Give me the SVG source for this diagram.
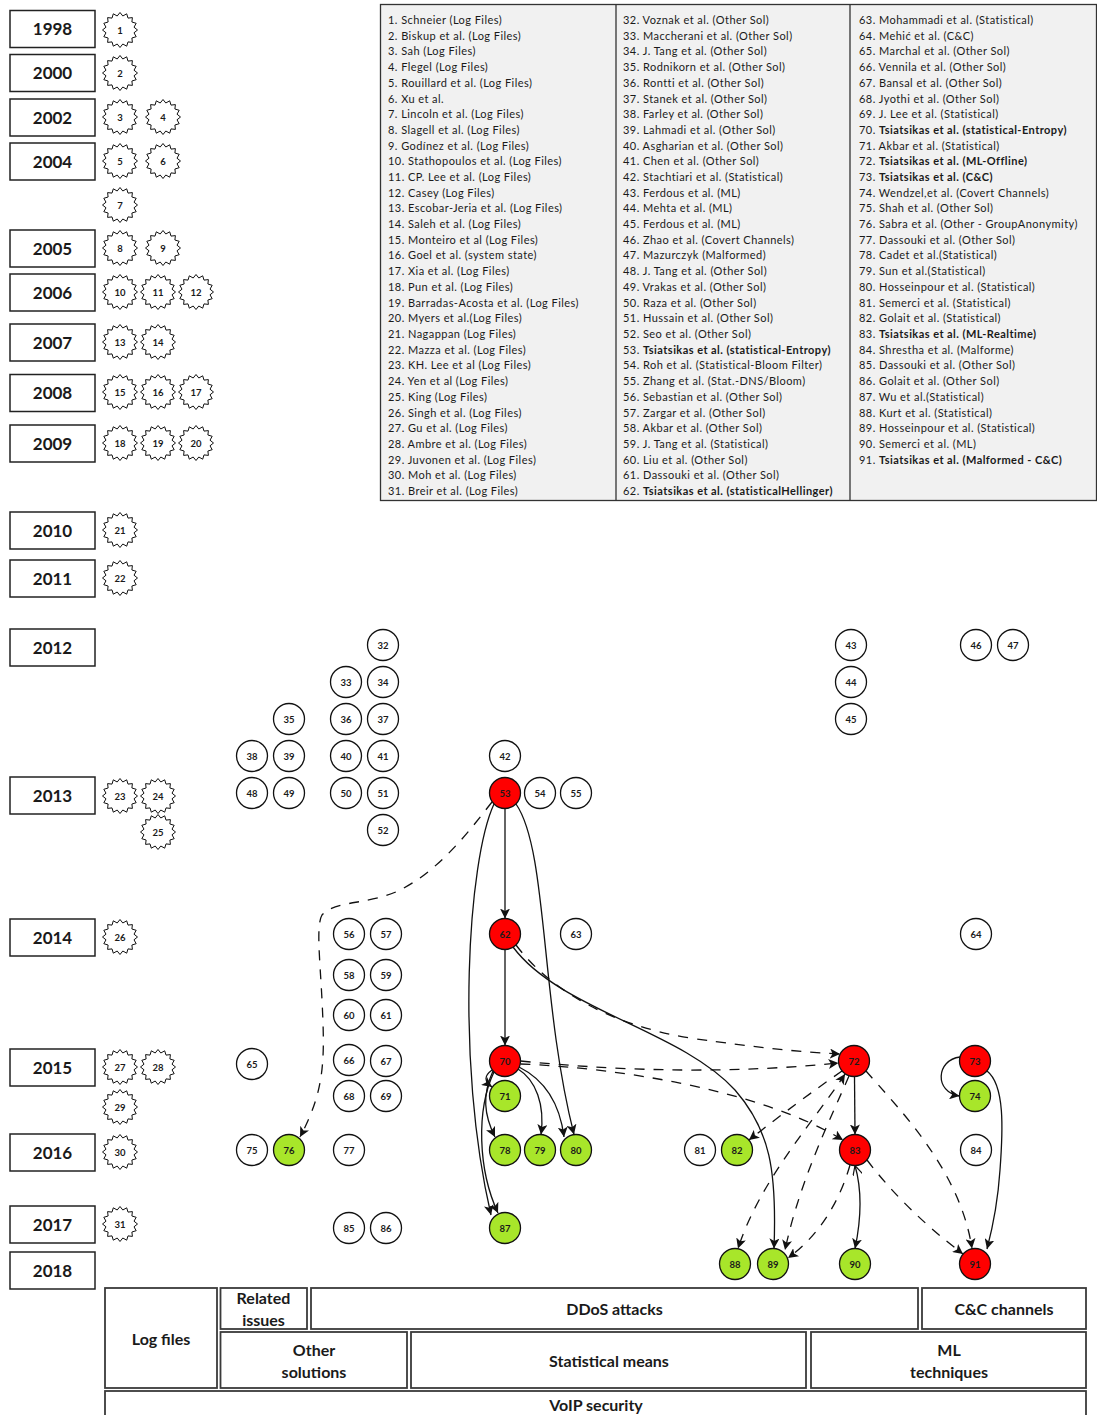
<svg xmlns="http://www.w3.org/2000/svg" xmlns:xlink="http://www.w3.org/1999/xlink" width="1097" height="1415" viewBox="0 0 1097 1415">
<style>
text{font-family:Lato,"Liberation Sans",sans-serif;fill:#1a1a1a}
.yb{fill:#fff;stroke:#222;stroke-width:1.5}
.yt{font-size:17px;font-weight:700;text-anchor:middle}
.st{fill:#fff;stroke:#111;stroke-width:1}
.nl{font-size:9.5px;font-weight:700;text-anchor:middle}
.cw{fill:#fff;stroke:#111;stroke-width:1.3}
.cr{fill:#ff0000;stroke:#111;stroke-width:1.3}
.cg{fill:#a8e62a;stroke:#111;stroke-width:1.3}
.e{fill:none;stroke:#111;stroke-width:1.3}
.d{stroke-dasharray:10 9}
.lg{font-size:11px;letter-spacing:0.45px}
.b{font-weight:700}
.cat{fill:#fff;stroke:#3a3a3a;stroke-width:1.8}
.ct{font-size:16px;font-weight:700;text-anchor:middle}
</style>
<defs>
<marker id="a" viewBox="0 0 10 10" refX="10" refY="5" markerWidth="10" markerHeight="10" markerUnits="userSpaceOnUse" orient="auto"><path d="M0,0 L10,5 L0,10 L2.5,5 z" fill="#111"/></marker>
<marker id="as" viewBox="0 0 10 10" refX="10" refY="5" markerWidth="10" markerHeight="10" markerUnits="userSpaceOnUse" orient="auto-start-reverse"><path d="M0,0 L10,5 L0,10 L2.5,5 z" fill="#111"/></marker>
<marker id="o" viewBox="0 0 10 10" refX="10" refY="5" markerWidth="10" markerHeight="10" markerUnits="userSpaceOnUse" orient="auto-start-reverse"><path d="M0,0 L10,5 L0,10" fill="none" stroke="#111" stroke-width="1.2"/></marker>
<polygon id="star" class="st" points="17.5,0 14,2.8 16.2,6.7 11.9,8 12.4,12.4 8,11.9 6.7,16.2 2.8,14 0,17.5 -2.8,14 -6.7,16.2 -8,11.9 -12.4,12.4 -11.9,8 -16.2,6.7 -14,2.8 -17.5,0 -14,-2.8 -16.2,-6.7 -11.9,-8 -12.4,-12.4 -8,-11.9 -6.7,-16.2 -2.8,-14 0,-17.5 2.8,-14 6.7,-16.2 8,-11.9 12.4,-12.4 11.9,-8 16.2,-6.7 14,-2.8"/>
</defs>

<g id="legend">
<rect x="380.5" y="4.5" width="716" height="496" fill="#f1f1f1" stroke="#333" stroke-width="1.3"/>
<line x1="616" y1="4.5" x2="616" y2="500.5" stroke="#333" stroke-width="1.3"/>
<line x1="850" y1="4.5" x2="850" y2="500.5" stroke="#333" stroke-width="1.3"/>
<text class="lg" x="388" y="24"><tspan x="388" dy="0">1. Schneier (Log Files)</tspan><tspan x="388" dy="15.7">2. Biskup et al. (Log Files)</tspan><tspan x="388" dy="15.7">3. Sah (Log Files)</tspan><tspan x="388" dy="15.7">4. Flegel (Log Files)</tspan><tspan x="388" dy="15.7">5. Rouillard et al. (Log Files)</tspan><tspan x="388" dy="15.7">6. Xu et al.</tspan><tspan x="388" dy="15.7">7. Lincoln et al. (Log Files)</tspan><tspan x="388" dy="15.7">8. Slagell et al. (Log Files)</tspan><tspan x="388" dy="15.7">9. Godínez et al. (Log Files)</tspan><tspan x="388" dy="15.7">10. Stathopoulos et al. (Log Files)</tspan><tspan x="388" dy="15.7">11. CP. Lee et al. (Log Files)</tspan><tspan x="388" dy="15.7">12. Casey (Log Files)</tspan><tspan x="388" dy="15.7">13. Escobar-Jeria et al. (Log Files)</tspan><tspan x="388" dy="15.7">14. Saleh et al. (Log Files)</tspan><tspan x="388" dy="15.7">15. Monteiro et al (Log Files)</tspan><tspan x="388" dy="15.7">16. Goel et al. (system state)</tspan><tspan x="388" dy="15.7">17. Xia et al. (Log Files)</tspan><tspan x="388" dy="15.7">18. Pun et al. (Log Files)</tspan><tspan x="388" dy="15.7">19. Barradas-Acosta et al. (Log Files)</tspan><tspan x="388" dy="15.7">20. Myers et al.(Log Files)</tspan><tspan x="388" dy="15.7">21. Nagappan (Log Files)</tspan><tspan x="388" dy="15.7">22. Mazza et al. (Log Files)</tspan><tspan x="388" dy="15.7">23. KH. Lee et al (Log Files)</tspan><tspan x="388" dy="15.7">24. Yen et al (Log Files)</tspan><tspan x="388" dy="15.7">25. King (Log Files)</tspan><tspan x="388" dy="15.7">26. Singh et al. (Log Files)</tspan><tspan x="388" dy="15.7">27. Gu et al. (Log Files)</tspan><tspan x="388" dy="15.7">28. Ambre et al. (Log Files)</tspan><tspan x="388" dy="15.7">29. Juvonen et al. (Log Files)</tspan><tspan x="388" dy="15.7">30. Moh et al. (Log Files)</tspan><tspan x="388" dy="15.7">31. Breir et al. (Log Files)</tspan></text>
<text class="lg" x="623" y="24"><tspan x="623" dy="0">32. Voznak et al. (Other Sol)</tspan><tspan x="623" dy="15.7">33. Maccherani et al. (Other Sol)</tspan><tspan x="623" dy="15.7">34. J. Tang et al. (Other Sol)</tspan><tspan x="623" dy="15.7">35. Rodnikorn et al. (Other Sol)</tspan><tspan x="623" dy="15.7">36. Rontti et al. (Other Sol)</tspan><tspan x="623" dy="15.7">37. Stanek et al. (Other Sol)</tspan><tspan x="623" dy="15.7">38. Farley et al. (Other Sol)</tspan><tspan x="623" dy="15.7">39. Lahmadi et al. (Other Sol)</tspan><tspan x="623" dy="15.7">40. Asgharian et al. (Other Sol)</tspan><tspan x="623" dy="15.7">41. Chen et al. (Other Sol)</tspan><tspan x="623" dy="15.7">42. Stachtiari et al. (Statistical)</tspan><tspan x="623" dy="15.7">43. Ferdous et al. (ML)</tspan><tspan x="623" dy="15.7">44. Mehta et al. (ML)</tspan><tspan x="623" dy="15.7">45. Ferdous et al. (ML)</tspan><tspan x="623" dy="15.7">46. Zhao et al. (Covert Channels)</tspan><tspan x="623" dy="15.7">47. Mazurczyk (Malformed)</tspan><tspan x="623" dy="15.7">48. J. Tang et al. (Other Sol)</tspan><tspan x="623" dy="15.7">49. Vrakas et al. (Other Sol)</tspan><tspan x="623" dy="15.7">50. Raza et al. (Other Sol)</tspan><tspan x="623" dy="15.7">51. Hussain et al. (Other Sol)</tspan><tspan x="623" dy="15.7">52. Seo et al. (Other Sol)</tspan><tspan x="623" dy="15.7">53. <tspan class="b">Tsiatsikas et al. (statistical-Entropy)</tspan></tspan><tspan x="623" dy="15.7">54. Roh et al. (Statistical-Bloom Filter)</tspan><tspan x="623" dy="15.7">55. Zhang et al. (Stat.-DNS/Bloom)</tspan><tspan x="623" dy="15.7">56. Sebastian et al. (Other Sol)</tspan><tspan x="623" dy="15.7">57. Zargar et al. (Other Sol)</tspan><tspan x="623" dy="15.7">58. Akbar et al. (Other Sol)</tspan><tspan x="623" dy="15.7">59. J. Tang et al. (Statistical)</tspan><tspan x="623" dy="15.7">60. Liu et al. (Other Sol)</tspan><tspan x="623" dy="15.7">61. Dassouki et al. (Other Sol)</tspan><tspan x="623" dy="15.7">62. <tspan class="b">Tsiatsikas et al. (statisticalHellinger)</tspan></tspan></text>
<text class="lg" x="859" y="24"><tspan x="859" dy="0">63. Mohammadi et al. (Statistical)</tspan><tspan x="859" dy="15.7">64. Mehić et al. (C&amp;C)</tspan><tspan x="859" dy="15.7">65. Marchal et al. (Other Sol)</tspan><tspan x="859" dy="15.7">66. Vennila et al. (Other Sol)</tspan><tspan x="859" dy="15.7">67. Bansal et al. (Other Sol)</tspan><tspan x="859" dy="15.7">68. Jyothi et al. (Other Sol)</tspan><tspan x="859" dy="15.7">69. J. Lee et al. (Statistical)</tspan><tspan x="859" dy="15.7">70. <tspan class="b">Tsiatsikas et al. (statistical-Entropy)</tspan></tspan><tspan x="859" dy="15.7">71. Akbar et al. (Statistical)</tspan><tspan x="859" dy="15.7">72. <tspan class="b">Tsiatsikas et al. (ML-Offline)</tspan></tspan><tspan x="859" dy="15.7">73. <tspan class="b">Tsiatsikas et al. (C&amp;C)</tspan></tspan><tspan x="859" dy="15.7">74. Wendzel,et al. (Covert Channels)</tspan><tspan x="859" dy="15.7">75. Shah et al. (Other Sol)</tspan><tspan x="859" dy="15.7">76. Sabra et al. (Other - GroupAnonymity)</tspan><tspan x="859" dy="15.7">77. Dassouki et al. (Other Sol)</tspan><tspan x="859" dy="15.7">78. Cadet et al.(Statistical)</tspan><tspan x="859" dy="15.7">79. Sun et al.(Statistical)</tspan><tspan x="859" dy="15.7">80. Hosseinpour et al. (Statistical)</tspan><tspan x="859" dy="15.7">81. Semerci et al. (Statistical)</tspan><tspan x="859" dy="15.7">82. Golait et al. (Statistical)</tspan><tspan x="859" dy="15.7">83. <tspan class="b">Tsiatsikas et al. (ML-Realtime)</tspan></tspan><tspan x="859" dy="15.7">84. Shrestha et al. (Malforme)</tspan><tspan x="859" dy="15.7">85. Dassouki et al. (Other Sol)</tspan><tspan x="859" dy="15.7">86. Golait et al. (Other Sol)</tspan><tspan x="859" dy="15.7">87. Wu et al.(Statistical)</tspan><tspan x="859" dy="15.7">88. Kurt et al. (Statistical)</tspan><tspan x="859" dy="15.7">89. Hosseinpour et al. (Statistical)</tspan><tspan x="859" dy="15.7">90. Semerci et al. (ML)</tspan><tspan x="859" dy="15.7">91. <tspan class="b">Tsiatsikas et al. (Malformed - C&amp;C)</tspan></tspan></text>
</g>

<g id="years">
<g id="y1998"><rect class="yb" x="10" y="10.5" width="85" height="37"/><text class="yt" x="52.5" y="35">1998</text></g>
<g id="y2000"><rect class="yb" x="10" y="54.5" width="85" height="37"/><text class="yt" x="52.5" y="79">2000</text></g>
<g id="y2002"><rect class="yb" x="10" y="99" width="85" height="37"/><text class="yt" x="52.5" y="123.5">2002</text></g>
<g id="y2004"><rect class="yb" x="10" y="143" width="85" height="37"/><text class="yt" x="52.5" y="167.5">2004</text></g>
<g id="y2005"><rect class="yb" x="10" y="230" width="85" height="37"/><text class="yt" x="52.5" y="254.5">2005</text></g>
<g id="y2006"><rect class="yb" x="10" y="274" width="85" height="37"/><text class="yt" x="52.5" y="298.5">2006</text></g>
<g id="y2007"><rect class="yb" x="10" y="324" width="85" height="37"/><text class="yt" x="52.5" y="348.5">2007</text></g>
<g id="y2008"><rect class="yb" x="10" y="374.5" width="85" height="37"/><text class="yt" x="52.5" y="399">2008</text></g>
<g id="y2009"><rect class="yb" x="10" y="425" width="85" height="37"/><text class="yt" x="52.5" y="449.5">2009</text></g>
<g id="y2010"><rect class="yb" x="10" y="512" width="85" height="37"/><text class="yt" x="52.5" y="536.5">2010</text></g>
<g id="y2011"><rect class="yb" x="10" y="560" width="85" height="37"/><text class="yt" x="52.5" y="584.5">2011</text></g>
<g id="y2012"><rect class="yb" x="10" y="629" width="85" height="37"/><text class="yt" x="52.5" y="653.5">2012</text></g>
<g id="y2013"><rect class="yb" x="10" y="777" width="85" height="37"/><text class="yt" x="52.5" y="801.5">2013</text></g>
<g id="y2014"><rect class="yb" x="10" y="919" width="85" height="37"/><text class="yt" x="52.5" y="943.5">2014</text></g>
<g id="y2015"><rect class="yb" x="10" y="1049" width="85" height="37"/><text class="yt" x="52.5" y="1073.5">2015</text></g>
<g id="y2016"><rect class="yb" x="10" y="1134" width="85" height="37"/><text class="yt" x="52.5" y="1158.5">2016</text></g>
<g id="y2017"><rect class="yb" x="10" y="1206" width="85" height="37"/><text class="yt" x="52.5" y="1230.5">2017</text></g>
<g id="y2018"><rect class="yb" x="10" y="1252" width="85" height="37"/><text class="yt" x="52.5" y="1276.5">2018</text></g>
</g>

<g id="stars">
<g id="n1"><use href="#star" x="120" y="30"/><text class="nl" x="120" y="33.5">1</text></g>
<g id="n2"><use href="#star" x="120" y="73"/><text class="nl" x="120" y="76.5">2</text></g>
<g id="n3"><use href="#star" x="120" y="117"/><text class="nl" x="120" y="120.5">3</text></g>
<g id="n4"><use href="#star" x="163" y="117"/><text class="nl" x="163" y="120.5">4</text></g>
<g id="n5"><use href="#star" x="120" y="161"/><text class="nl" x="120" y="164.5">5</text></g>
<g id="n6"><use href="#star" x="163" y="161"/><text class="nl" x="163" y="164.5">6</text></g>
<g id="n7"><use href="#star" x="120" y="205"/><text class="nl" x="120" y="208.5">7</text></g>
<g id="n8"><use href="#star" x="120" y="248"/><text class="nl" x="120" y="251.5">8</text></g>
<g id="n9"><use href="#star" x="163" y="248"/><text class="nl" x="163" y="251.5">9</text></g>
<g id="n10"><use href="#star" x="120" y="292"/><text class="nl" x="120" y="295.5">10</text></g>
<g id="n11"><use href="#star" x="158" y="292"/><text class="nl" x="158" y="295.5">11</text></g>
<g id="n12"><use href="#star" x="196" y="292"/><text class="nl" x="196" y="295.5">12</text></g>
<g id="n13"><use href="#star" x="120" y="342"/><text class="nl" x="120" y="345.5">13</text></g>
<g id="n14"><use href="#star" x="158" y="342"/><text class="nl" x="158" y="345.5">14</text></g>
<g id="n15"><use href="#star" x="120" y="392"/><text class="nl" x="120" y="395.5">15</text></g>
<g id="n16"><use href="#star" x="158" y="392"/><text class="nl" x="158" y="395.5">16</text></g>
<g id="n17"><use href="#star" x="196" y="392"/><text class="nl" x="196" y="395.5">17</text></g>
<g id="n18"><use href="#star" x="120" y="443"/><text class="nl" x="120" y="446.5">18</text></g>
<g id="n19"><use href="#star" x="158" y="443"/><text class="nl" x="158" y="446.5">19</text></g>
<g id="n20"><use href="#star" x="196" y="443"/><text class="nl" x="196" y="446.5">20</text></g>
<g id="n21"><use href="#star" x="120" y="530"/><text class="nl" x="120" y="533.5">21</text></g>
<g id="n22"><use href="#star" x="120" y="578"/><text class="nl" x="120" y="581.5">22</text></g>
<g id="n23"><use href="#star" x="120" y="796"/><text class="nl" x="120" y="799.5">23</text></g>
<g id="n24"><use href="#star" x="158" y="796"/><text class="nl" x="158" y="799.5">24</text></g>
<g id="n25"><use href="#star" x="158" y="832"/><text class="nl" x="158" y="835.5">25</text></g>
<g id="n26"><use href="#star" x="120" y="937"/><text class="nl" x="120" y="940.5">26</text></g>
<g id="n27"><use href="#star" x="120" y="1067"/><text class="nl" x="120" y="1070.5">27</text></g>
<g id="n28"><use href="#star" x="158" y="1067"/><text class="nl" x="158" y="1070.5">28</text></g>
<g id="n29"><use href="#star" x="120" y="1107"/><text class="nl" x="120" y="1110.5">29</text></g>
<g id="n30"><use href="#star" x="120" y="1152"/><text class="nl" x="120" y="1155.5">30</text></g>
<g id="n31"><use href="#star" x="120" y="1224"/><text class="nl" x="120" y="1227.5">31</text></g>
</g>

<g id="connectors">
<path class="e" d="M505,808.5 L505,918.5" marker-end="url(#a)"/>
<path class="e" d="M505,949.5 L505,1045.5" marker-end="url(#a)"/>
<path class="e" d="M494,804 C468,860 455,1060 491,1215" marker-end="url(#a)"/>
<path class="e" d="M494,1072 C476,1110 478,1170 498,1213" marker-end="url(#a)"/>
<path class="e" d="M492,1070 C484,1076 484,1081 492,1087" marker-end="url(#a)"/>
<path class="e" d="M493,1071 C482,1095 484,1115 495,1137" marker-end="url(#a)"/>
<path class="e" d="M518,1069 C536,1080 545,1105 541,1134.5" marker-end="url(#a)"/>
<path class="e" d="M519,1067 C545,1080 560,1105 564,1137" marker-end="url(#a)"/>
<path class="e" d="M516,804 C548,850 540,1000 574,1134.5" marker-end="url(#a)"/>
<path class="e" d="M513,947 C560,1010 680,1030 735,1090 C770,1130 777,1170 774,1248.5" marker-end="url(#a)"/>
<path class="e d" d="M516,945 C550,990 610,1025 690,1038 C760,1048 800,1052 840,1054" marker-end="url(#a)"/>
<path class="e d" d="M520.5,1061 Q690,1078 838.5,1063" marker-end="url(#a)"/>
<path class="e d" d="M520.5,1064 C620,1068 760,1090 843,1140" marker-end="url(#a)"/>
<path class="e" d="M854.5,1076.5 L855,1134.5" marker-end="url(#a)"/>
<path class="e d" d="M866,1071 C900,1110 960,1170 972,1248.5" marker-end="url(#a)"/>
<path class="e d" d="M867,1160 Q905,1210 963,1254" marker-end="url(#a)"/>
<path class="e" d="M855,1165.5 C862,1190 861,1220 855,1248.5" marker-start="url(#o)" marker-end="url(#a)"/>
<path class="e d" d="M842,1071 Q800,1100 749,1140" marker-end="url(#a)"/>
<path class="e d" d="M845,1074 C815,1120 760,1180 738,1248.5" marker-start="url(#as)" marker-end="url(#a)"/>
<path class="e d" d="M849,1076 C830,1120 800,1180 785,1250" marker-end="url(#a)"/>
<path class="e d" d="M850,1165 C840,1200 820,1235 788,1258" marker-end="url(#a)"/>
<path class="e" d="M960,1057 C936,1060 934,1092 959.5,1096" marker-end="url(#a)"/>
<path class="e" d="M987,1071 C1005,1085 1003,1130 1000,1170 C998,1200 992,1230 987,1249" marker-end="url(#a)"/>
<path class="e d" d="M492,802 C470,830 440,870 400,890 C370,905 335,900 322,915 C316,925 320,960 322,1000 C325,1060 325,1090 300,1137" marker-end="url(#a)"/>
</g>

<g id="nodes">
<g id="n32"><circle class="cw" cx="383" cy="645" r="15.5"/><text class="nl" x="383" y="648.5">32</text></g>
<g id="n33"><circle class="cw" cx="346" cy="682" r="15.5"/><text class="nl" x="346" y="685.5">33</text></g>
<g id="n34"><circle class="cw" cx="383" cy="682" r="15.5"/><text class="nl" x="383" y="685.5">34</text></g>
<g id="n35"><circle class="cw" cx="289" cy="719" r="15.5"/><text class="nl" x="289" y="722.5">35</text></g>
<g id="n36"><circle class="cw" cx="346" cy="719" r="15.5"/><text class="nl" x="346" y="722.5">36</text></g>
<g id="n37"><circle class="cw" cx="383" cy="719" r="15.5"/><text class="nl" x="383" y="722.5">37</text></g>
<g id="n38"><circle class="cw" cx="252" cy="756" r="15.5"/><text class="nl" x="252" y="759.5">38</text></g>
<g id="n39"><circle class="cw" cx="289" cy="756" r="15.5"/><text class="nl" x="289" y="759.5">39</text></g>
<g id="n40"><circle class="cw" cx="346" cy="756" r="15.5"/><text class="nl" x="346" y="759.5">40</text></g>
<g id="n41"><circle class="cw" cx="383" cy="756" r="15.5"/><text class="nl" x="383" y="759.5">41</text></g>
<g id="n42"><circle class="cw" cx="505" cy="756" r="15.5"/><text class="nl" x="505" y="759.5">42</text></g>
<g id="n43"><circle class="cw" cx="851" cy="645" r="15.5"/><text class="nl" x="851" y="648.5">43</text></g>
<g id="n44"><circle class="cw" cx="851" cy="682" r="15.5"/><text class="nl" x="851" y="685.5">44</text></g>
<g id="n45"><circle class="cw" cx="851" cy="719" r="15.5"/><text class="nl" x="851" y="722.5">45</text></g>
<g id="n46"><circle class="cw" cx="976" cy="645" r="15.5"/><text class="nl" x="976" y="648.5">46</text></g>
<g id="n47"><circle class="cw" cx="1013" cy="645" r="15.5"/><text class="nl" x="1013" y="648.5">47</text></g>
<g id="n48"><circle class="cw" cx="252" cy="793" r="15.5"/><text class="nl" x="252" y="796.5">48</text></g>
<g id="n49"><circle class="cw" cx="289" cy="793" r="15.5"/><text class="nl" x="289" y="796.5">49</text></g>
<g id="n50"><circle class="cw" cx="346" cy="793" r="15.5"/><text class="nl" x="346" y="796.5">50</text></g>
<g id="n51"><circle class="cw" cx="383" cy="793" r="15.5"/><text class="nl" x="383" y="796.5">51</text></g>
<g id="n52"><circle class="cw" cx="383" cy="830" r="15.5"/><text class="nl" x="383" y="833.5">52</text></g>
<g id="n53"><circle class="cr" cx="505" cy="793" r="15.5"/><text class="nl" x="505" y="796.5">53</text></g>
<g id="n54"><circle class="cw" cx="540" cy="793" r="15.5"/><text class="nl" x="540" y="796.5">54</text></g>
<g id="n55"><circle class="cw" cx="576" cy="793" r="15.5"/><text class="nl" x="576" y="796.5">55</text></g>
<g id="n56"><circle class="cw" cx="349" cy="934" r="15.5"/><text class="nl" x="349" y="937.5">56</text></g>
<g id="n57"><circle class="cw" cx="386" cy="934" r="15.5"/><text class="nl" x="386" y="937.5">57</text></g>
<g id="n58"><circle class="cw" cx="349" cy="975" r="15.5"/><text class="nl" x="349" y="978.5">58</text></g>
<g id="n59"><circle class="cw" cx="386" cy="975" r="15.5"/><text class="nl" x="386" y="978.5">59</text></g>
<g id="n60"><circle class="cw" cx="349" cy="1015" r="15.5"/><text class="nl" x="349" y="1018.5">60</text></g>
<g id="n61"><circle class="cw" cx="386" cy="1015" r="15.5"/><text class="nl" x="386" y="1018.5">61</text></g>
<g id="n62"><circle class="cr" cx="505" cy="934" r="15.5"/><text class="nl" x="505" y="937.5">62</text></g>
<g id="n63"><circle class="cw" cx="576" cy="934" r="15.5"/><text class="nl" x="576" y="937.5">63</text></g>
<g id="n64"><circle class="cw" cx="976" cy="934" r="15.5"/><text class="nl" x="976" y="937.5">64</text></g>
<g id="n65"><circle class="cw" cx="252" cy="1064" r="15.5"/><text class="nl" x="252" y="1067.5">65</text></g>
<g id="n66"><circle class="cw" cx="349" cy="1060" r="15.5"/><text class="nl" x="349" y="1063.5">66</text></g>
<g id="n67"><circle class="cw" cx="386" cy="1061" r="15.5"/><text class="nl" x="386" y="1064.5">67</text></g>
<g id="n68"><circle class="cw" cx="349" cy="1096" r="15.5"/><text class="nl" x="349" y="1099.5">68</text></g>
<g id="n69"><circle class="cw" cx="386" cy="1096" r="15.5"/><text class="nl" x="386" y="1099.5">69</text></g>
<g id="n70"><circle class="cr" cx="505" cy="1061" r="15.5"/><text class="nl" x="505" y="1064.5">70</text></g>
<g id="n71"><circle class="cg" cx="505" cy="1096" r="15.5"/><text class="nl" x="505" y="1099.5">71</text></g>
<g id="n72"><circle class="cr" cx="854" cy="1061" r="15.5"/><text class="nl" x="854" y="1064.5">72</text></g>
<g id="n73"><circle class="cr" cx="975" cy="1061" r="15.5"/><text class="nl" x="975" y="1064.5">73</text></g>
<g id="n74"><circle class="cg" cx="975" cy="1096" r="15.5"/><text class="nl" x="975" y="1099.5">74</text></g>
<g id="n75"><circle class="cw" cx="252" cy="1150" r="15.5"/><text class="nl" x="252" y="1153.5">75</text></g>
<g id="n76"><circle class="cg" cx="289" cy="1150" r="15.5"/><text class="nl" x="289" y="1153.5">76</text></g>
<g id="n77"><circle class="cw" cx="349" cy="1150" r="15.5"/><text class="nl" x="349" y="1153.5">77</text></g>
<g id="n78"><circle class="cg" cx="505" cy="1150" r="15.5"/><text class="nl" x="505" y="1153.5">78</text></g>
<g id="n79"><circle class="cg" cx="540" cy="1150" r="15.5"/><text class="nl" x="540" y="1153.5">79</text></g>
<g id="n80"><circle class="cg" cx="576" cy="1150" r="15.5"/><text class="nl" x="576" y="1153.5">80</text></g>
<g id="n81"><circle class="cw" cx="700" cy="1150" r="15.5"/><text class="nl" x="700" y="1153.5">81</text></g>
<g id="n82"><circle class="cg" cx="737" cy="1150" r="15.5"/><text class="nl" x="737" y="1153.5">82</text></g>
<g id="n83"><circle class="cr" cx="855" cy="1150" r="15.5"/><text class="nl" x="855" y="1153.5">83</text></g>
<g id="n84"><circle class="cw" cx="976" cy="1150" r="15.5"/><text class="nl" x="976" y="1153.5">84</text></g>
<g id="n85"><circle class="cw" cx="349" cy="1228" r="15.5"/><text class="nl" x="349" y="1231.5">85</text></g>
<g id="n86"><circle class="cw" cx="386" cy="1228" r="15.5"/><text class="nl" x="386" y="1231.5">86</text></g>
<g id="n87"><circle class="cg" cx="505" cy="1228" r="15.5"/><text class="nl" x="505" y="1231.5">87</text></g>
<g id="n88"><circle class="cg" cx="735" cy="1264" r="15.5"/><text class="nl" x="735" y="1267.5">88</text></g>
<g id="n89"><circle class="cg" cx="773" cy="1264" r="15.5"/><text class="nl" x="773" y="1267.5">89</text></g>
<g id="n90"><circle class="cg" cx="855" cy="1264" r="15.5"/><text class="nl" x="855" y="1267.5">90</text></g>
<g id="n91"><circle class="cr" cx="975" cy="1264" r="15.5"/><text class="nl" x="975" y="1267.5">91</text></g>
</g>

<g id="categories">
<g id="c-log"><rect class="cat" x="105" y="1288" width="112" height="100"/><text class="ct" x="161" y="1344.5">Log files</text></g>
<g id="c-rel"><rect class="cat" x="220.5" y="1288" width="86.5" height="41"/><text class="ct" x="263.5" y="1303.5">Related</text><text class="ct" x="263.5" y="1326">issues</text></g>
<g id="c-ddos"><rect class="cat" x="311" y="1288" width="607" height="41"/><text class="ct" x="614.5" y="1314.5">DDoS attacks</text></g>
<g id="c-cc"><rect class="cat" x="922" y="1288" width="164" height="41"/><text class="ct" x="1004" y="1314.5">C&amp;C channels</text></g>
<g id="c-other"><rect class="cat" x="220.5" y="1332" width="186.5" height="56"/><text class="ct" x="314" y="1355.5">Other</text><text class="ct" x="314" y="1377.5">solutions</text></g>
<g id="c-stat"><rect class="cat" x="411" y="1332" width="395" height="56"/><text class="ct" x="609" y="1366.5">Statistical means</text></g>
<g id="c-ml"><rect class="cat" x="811" y="1332" width="275" height="56"/><text class="ct" x="949" y="1355.5">ML</text><text class="ct" x="949" y="1377.5">techniques</text></g>
<g id="c-voip"><rect class="cat" x="105" y="1391" width="981" height="30"/><text class="ct" x="596" y="1410.5">VoIP security</text></g>
</g>
</svg>
